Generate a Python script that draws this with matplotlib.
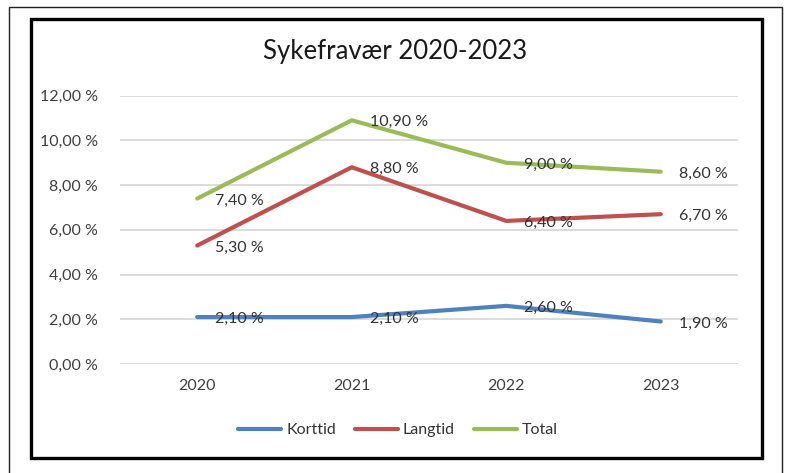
import matplotlib
matplotlib.use("Agg")
import matplotlib.pyplot as plt
from matplotlib.patches import Rectangle
from matplotlib.lines import Line2D

plt.rcParams['font.family'] = ['Lato', 'DejaVu Sans']

years = ["2020", "2021", "2022", "2023"]
korttid = [2.10, 2.10, 2.60, 1.90]
langtid = [5.30, 8.80, 6.40, 6.70]
total = [7.40, 10.90, 9.00, 8.60]
series_names = ["Korttid", "Langtid", "Total"]
colors = ["#4F81BD", "#C0504D", "#9BBB59"]
yticks = [0, 2, 4, 6, 8, 10, 12]
title = "Sykefravær 2020-2023"

W, H = 790, 473
fig = plt.figure(figsize=(W / 100, H / 100), dpi=100)

# outer thin frame
fig.patches.append(Rectangle((9 / W, -0.05), (782 - 9) / W, 1.05 - 7 / H,
                             transform=fig.transFigure, fill=False,
                             edgecolor="#222222", linewidth=1.0))
# inner thick frame
fig.patches.append(Rectangle((31.5 / W, 1 - 457.5 / H), (761.5 - 31.5) / W, (457.5 - 19.5) / H,
                             transform=fig.transFigure, fill=False,
                             edgecolor="black", linewidth=2.4))

ax = fig.add_axes([120 / W, 1 - 364 / H, (738 - 120) / W, (364 - 95.7) / H])
x = list(range(len(years)))
for vals, name, c in zip([korttid, langtid, total], series_names, colors):
    ax.plot(x, vals, color=c, linewidth=3.0, solid_capstyle="round", label=name, zorder=3)
    for xi, v in zip(x, vals):
        ax.annotate(f"{v:.2f} %".replace(".", ","), (xi, v), xytext=(13, -1.5),
                    textcoords="offset points", ha="left", va="center",
                    fontsize=11.5, color="#333333", zorder=4)

ax.set_xlim(-0.5, len(years) - 0.5)
ax.set_ylim(0, 12)
ax.set_yticks(yticks)
ax.set_yticklabels([f"{t:.2f} %".replace(".", ",") for t in yticks])
ax.set_xticks(x)
ax.set_xticklabels(years)
ax.tick_params(axis="both", length=0, labelsize=11.5, labelcolor="#404040")
ax.tick_params(axis="y", pad=16)
ax.tick_params(axis="x", pad=11)
ax.grid(axis="y", color="#D9D9D9", linewidth=1.3, zorder=0)
ax.set_axisbelow(True)
for s in ax.spines.values():
    s.set_visible(False)

fig.text(395 / W, 1 - 52 / H, title, ha="center", va="center", fontsize=18.5, color="#1a1a1a")

handles = [Line2D([0], [0], color=c, linewidth=3.0, solid_capstyle="round") for c in colors]
fig.legend(handles, series_names, loc="center", bbox_to_anchor=(398 / W, 1 - 430 / H),
           ncol=3, frameon=False, fontsize=11.5, handlelength=2.7, handletextpad=0.3,
           columnspacing=1.2, labelcolor="#333333")

fig.savefig("out.png", dpi=100)
